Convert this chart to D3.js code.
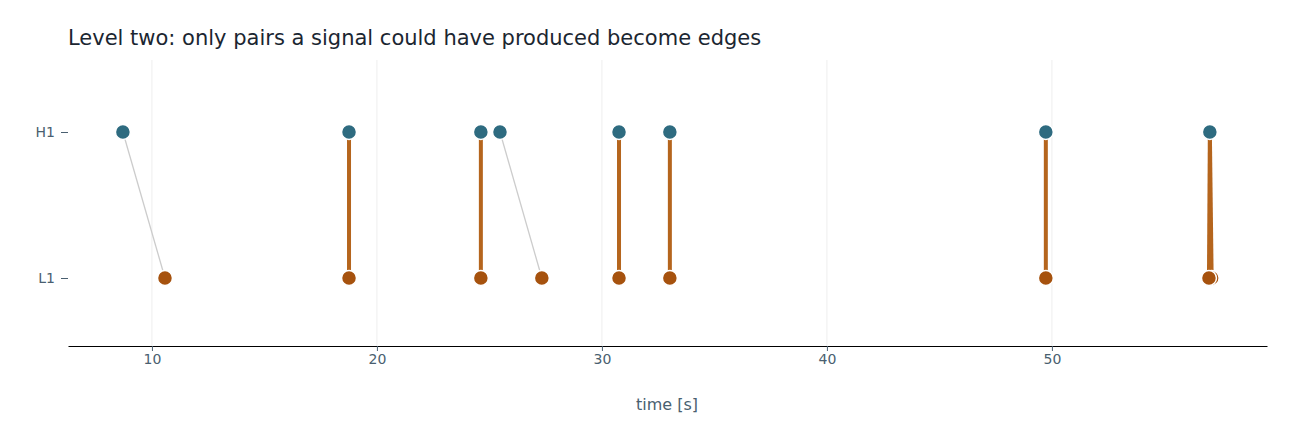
<!DOCTYPE html>
<html><head><meta charset="utf-8">
<script src="https://cdn.jsdelivr.net/npm/d3@7"></script>
<style>body{margin:0;background:#fff;font-family:"DejaVu Sans",sans-serif} svg text{font-family:"DejaVu Sans",sans-serif}</style>
</head><body>
<script>
const channels = ["H1", "L1"];
const h1Times = [8.71, 18.76, 24.62, 25.47, 30.76, 33.02, 49.73, 57.02];
const l1Times = [10.58, 18.76, 24.62, 27.33, 30.76, 33.02, 49.73, 56.98, 57.1];
// [h1 time, l1 time, accepted]
const pairs = [
  [8.71, 10.58, false], [25.47, 27.33, false],
  [18.76, 18.76, true], [24.62, 24.62, true], [30.76, 30.76, true],
  [33.02, 33.02, true], [49.73, 49.73, true], [57.02, 56.98, true], [57.02, 57.1, true]
];
const xTicks = [10, 20, 30, 40, 50];

const width = 1292, height = 442;
const svg = d3.select('body').append('svg').attr('width', width).attr('height', height);

const x = d3.scaleLinear().domain([6.27, 59.56]).range([68, 1267]);
const y = d3.scalePoint().domain(channels).range([132, 278]);

svg.append('text').attr('x', 68).attr('y', 45).attr('font-size', 21).attr('fill', '#1b2631')
  .text('Level two: only pairs a signal could have produced become edges');

svg.append('g').selectAll('line').data(xTicks).join('line')
  .attr('x1', d => x(d)).attr('x2', d => x(d)).attr('y1', 60).attr('y2', 346)
  .attr('stroke', '#eeeeee');

const xa = svg.append('g').attr('transform', 'translate(0,346)')
  .call(d3.axisBottom(x).tickValues(xTicks).tickSize(5).tickSizeOuter(0));
xa.select('.domain').attr('stroke', '#000');
xa.selectAll('.tick line').attr('stroke', '#4a5f70');
xa.selectAll('text').attr('fill', '#4a5f70').attr('font-size', 14).attr('font-family', 'DejaVu Sans');
svg.append('text').attr('x', 667).attr('y', 410).attr('text-anchor', 'middle')
  .attr('font-size', 16).attr('fill', '#4a5f70').text('time [s]');

const ya = svg.append('g').attr('transform', 'translate(68,0)')
  .call(d3.axisLeft(y).tickSize(7).tickPadding(6));
ya.select('.domain').remove();
ya.selectAll('.tick line').attr('stroke', '#4a5f70');
ya.selectAll('text').attr('fill', '#4a5f70').attr('font-size', 14).attr('font-family', 'DejaVu Sans');

svg.append('g').selectAll('line').data(pairs).join('line')
  .attr('x1', d => x(d[0])).attr('y1', y('H1')).attr('x2', d => x(d[1])).attr('y2', y('L1'))
  .attr('stroke', d => d[2] ? '#b5651d' : '#cccccc')
  .attr('stroke-width', d => d[2] ? 4 : 1.3);

svg.append('g').selectAll('circle').data(l1Times.slice().reverse()).join('circle')
  .attr('cx', d => x(d)).attr('cy', y('L1')).attr('r', 7.5)
  .attr('fill', '#a6520e').attr('stroke', '#fff').attr('stroke-width', 1.5);
svg.append('g').selectAll('circle').data(h1Times).join('circle')
  .attr('cx', d => x(d)).attr('cy', y('H1')).attr('r', 7.5)
  .attr('fill', '#2e6b80').attr('stroke', '#fff').attr('stroke-width', 1.5);
</script>
</body></html>
